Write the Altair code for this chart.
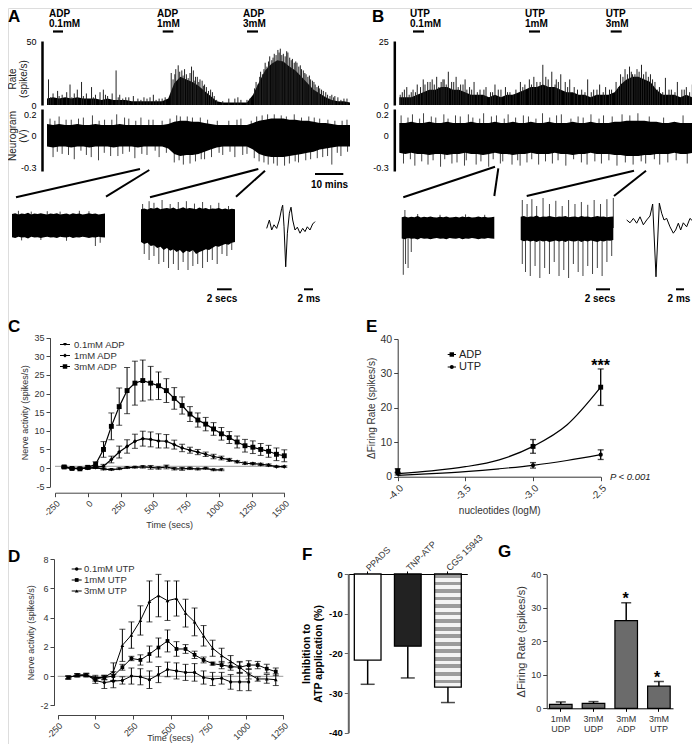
import altair as alt
import pandas as pd

FONT = "Liberation Sans"
M = 8            # page margin
W, H = 684, 736  # drawing area
MINUS = "replace(format(datum.value, 'd'), '\u2212', '-')"

# ================= Panels A / B : recordings (envelopes) =================
trace_t = list(range(0, 101, 2))  # minutes

a_rate_dense = [5, 6, 5, 6, 5, 6, 5, 5, 5, 4, 5, 4, 4, 4, 3, 3, 3, 3, 3, 3,
                5, 17, 22, 20, 18, 15, 11, 7, 3,
                2, 2, 2, 2, 2,
                8, 18, 27, 32, 35, 34, 30, 27, 22, 17, 12, 9, 6, 4, 3, 3, 2]
a_rate_spk_t = [0.5, 2, 3.5, 5, 6.5, 7.6, 9, 10, 11.4, 13, 14.7, 16, 17.5, 18.6, 20, 21.5, 22.8, 24, 26, 28.5,
                30, 32, 35.1, 37, 41, 42.5, 43.3, 44.5, 46, 47.7, 49, 50.5, 52, 54, 60, 63, 66, 69, 70.5, 72,
                73.5, 75, 76.2, 77, 78, 79.5, 81, 82.5, 84, 85.5, 87, 88.5, 90, 92, 94, 96, 98,
                1.2, 4, 8.2, 12, 15.3, 19.3, 23.5, 25, 27, 31, 33, 34, 36, 38, 39, 56, 58, 62, 64, 67, 95, 97, 99,
                41.6, 42.2, 43.8, 44.9, 45.4, 46.6, 47.2, 48.3, 48.8, 49.6, 50.1, 51.2, 51.7, 52.6, 53.3, 54.6, 55.2,
                68.5, 69.6, 70.2, 71.1, 71.6, 72.6, 73.1, 74.2, 74.6, 75.6, 76.6, 77.5, 78.6, 79.1, 80.1, 80.6, 81.6,
                82.1, 83.1, 83.6, 84.6, 85.1, 86.1, 86.6, 87.6, 88.1, 89.1, 89.6, 90.6, 91.2, 92.6, 93.4, 94.6]
a_rate_spk_v = [20, 9, 11, 8, 10, 16, 9, 12, 18, 9, 14, 8, 10, 12, 7, 9, 27, 8, 6, 7,
                5, 6, 8, 5, 25, 28, 31, 27, 24, 30, 22, 20, 16, 12, 5, 6, 4, 18, 26, 33,
                38, 40, 43, 44, 40, 41, 36, 33, 28, 24, 20, 16, 13, 10, 8, 6, 5,
                6, 7, 6, 7, 6, 8, 6, 5, 6, 4, 5, 6, 4, 5, 6, 4, 3, 5, 4, 5, 7, 4, 5,
                20, 24, 26, 23, 28, 21, 25, 27, 19, 22, 18, 19, 15, 14, 11, 10, 7,
                13, 16, 22, 24, 28, 30, 34, 35, 37, 39, 41, 39, 38, 42, 37, 35, 33,
                34, 30, 31, 27, 25, 22, 23, 19, 18, 14, 15, 12, 11, 8, 7, 6]
a_neu_hi = [0.11, 0.1, 0.11, 0.1, 0.1, 0.11, 0.1, 0.1, 0.11, 0.1, 0.1, 0.1, 0.11, 0.1, 0.1, 0.1, 0.1, 0.1, 0.1, 0.1,
            0.11, 0.13, 0.14, 0.14, 0.13, 0.13, 0.12, 0.11, 0.1,
            0.1, 0.1, 0.1, 0.1, 0.1,
            0.12, 0.14, 0.15, 0.16, 0.16, 0.16, 0.15, 0.15, 0.14, 0.14, 0.13, 0.12, 0.12, 0.11, 0.1, 0.1, 0.1]
a_neu_lo = [-0.1, -0.11, -0.1, -0.1, -0.11, -0.1, -0.1, -0.11, -0.1, -0.1, -0.1, -0.11, -0.1, -0.1, -0.1, -0.11, -0.1, -0.1, -0.1, -0.1,
            -0.12, -0.17, -0.19, -0.18, -0.18, -0.17, -0.15, -0.13, -0.11,
            -0.1, -0.1, -0.1, -0.1, -0.1,
            -0.13, -0.17, -0.19, -0.2, -0.2, -0.2, -0.19, -0.18, -0.17, -0.16, -0.15, -0.13, -0.12, -0.11, -0.1, -0.1, -0.1]
a_neu_spk_t = [1, 4, 8, 12, 15, 19, 23, 27, 31, 35, 38, 44, 48, 53, 60, 64, 71, 75, 79, 84, 90, 95, 99,
               2, 5, 9, 13, 17, 21, 25, 29, 33, 37, 42, 45, 49, 52, 58, 62, 66, 70, 73, 76, 80, 83, 87, 91, 94, 97,
               2.6, 6.3, 10.4, 17.2, 21.4, 25.6, 29.3, 33.6, 40.6, 42.8, 46.3, 50.6, 56.2, 62.7, 67.4, 69.2, 72.8, 77.3,
               81.6, 86.4, 88.2, 92.7, 97.4,
               3.4, 7.1, 11.2, 14.6, 18.9, 23.4, 27.2, 31.3, 35.7, 39.4, 43.6, 47.2, 50.9, 54.3, 56.8, 60.4, 64.6, 68.4,
               71.6, 74.8, 78.4, 81.9, 85.4, 89.2, 92.6, 95.8, 99.2]
a_neu_spk_v = [0.16, 0.18, 0.15, 0.17, 0.19, 0.15, 0.2, 0.16, 0.17, 0.15, 0.14, 0.18, 0.17, 0.15, 0.14, 0.16, 0.19, 0.2, 0.18, 0.17, 0.16, 0.14, 0.15,
               -0.2, -0.17, -0.22, -0.18, -0.23, -0.19, -0.17, -0.21, -0.18, -0.2, -0.25, -0.27, -0.24, -0.22, -0.18, -0.2, -0.17, -0.24, -0.27, -0.28, -0.26, -0.25, -0.22, -0.2, -0.27, -0.19,
               0.14, 0.15, 0.16, 0.14, 0.15, 0.17, 0.14, 0.15, 0.16, 0.19, 0.18, 0.17, 0.14, 0.15, 0.14, 0.18, 0.2, 0.19,
               0.2, 0.18, 0.17, 0.15, 0.14,
               -0.15, -0.18, -0.14, -0.2, -0.16, -0.19, -0.15, -0.17, -0.14, -0.16, -0.23, -0.26, -0.22, -0.2, -0.16, -0.15, -0.18, -0.21,
               -0.25, -0.26, -0.28, -0.24, -0.23, -0.21, -0.19, -0.16, -0.15]

b_rate_dense = [3, 3, 3, 4, 5, 6, 6, 7, 7, 6, 6, 5, 4, 4, 4, 3, 4, 3, 4, 4,
                5, 6, 7, 7, 8, 7, 7, 6, 5, 5, 4, 4, 3, 4, 4, 4, 5, 8, 10, 11,
                11, 10, 9, 6, 4, 4, 4, 3, 4, 3, 3]
b_rate_spk_t = [1, 2.5, 4, 6, 8, 9.5, 11, 12.5, 14, 15, 16.4, 17.5, 19, 20.5, 22, 23.5, 25, 27, 29, 30.5,
                32, 34, 35.5, 37, 39, 40.5, 42, 43.5, 45, 46, 48, 49, 51, 52.5, 54, 55.5, 57, 58.5, 61, 63,
                65, 67, 69, 71, 72.5, 74, 75.5, 77, 78, 79.5, 81, 82.5, 84, 85.5, 87, 89, 91, 93, 94.5, 96, 98, 99.5,
                0.3, 1.7, 3.3, 4.6, 5.4, 7.1, 8.6, 10.3, 11.7, 13.2, 14.6, 15.7, 18.2, 19.7, 21.3, 22.6, 24.2, 26.1, 28.3, 31.2,
                33.1, 36.2, 38.1, 41.3, 44.2, 47.1, 49.8, 52.1, 53.2, 56.3, 59.6, 62.1, 64.2, 66.1, 68.2, 70.3, 73.3, 74.8, 76.3, 77.6,
                78.8, 80.2, 81.7, 83.3, 84.7, 86.3, 88.1, 90.2, 92.2, 95.3, 97.1, 99.1]
b_rate_spk_v = [5, 7, 5, 8, 10, 9, 10, 11, 9, 10, 13, 9, 11, 8, 10, 7, 9, 6, 7, 5,
                8, 6, 7, 5, 6, 9, 8, 10, 11, 9, 15.7, 11, 13, 10, 12, 9, 10, 7, 6, 10,
                6, 8, 7, 6, 9, 12, 14, 15, 12, 14, 15.7, 13, 12, 9, 7, 10.6, 6, 9, 6, 7, 8, 6,
                4, 6, 4, 6, 5, 7, 8, 9, 8, 7, 10, 8, 9, 7, 8, 6, 6, 5, 6, 5,
                6, 5, 4, 7, 8, 9, 10, 8, 9, 7, 6, 5, 5, 6, 5, 6, 7, 11, 12, 13,
                12, 13, 12, 11, 10, 6, 5, 6, 5, 6, 5, 4]
b_neu_hi = [0.12, 0.12, 0.13, 0.12, 0.12, 0.13, 0.12, 0.12, 0.13, 0.12, 0.12, 0.12, 0.13, 0.12, 0.12, 0.12, 0.13, 0.12, 0.12, 0.13,
            0.12, 0.12, 0.13, 0.12, 0.12, 0.13, 0.12, 0.12, 0.12, 0.13, 0.12, 0.12, 0.13, 0.12, 0.12, 0.12, 0.13, 0.13, 0.14, 0.14,
            0.14, 0.14, 0.13, 0.13, 0.12, 0.12, 0.13, 0.12, 0.12, 0.12, 0.12]
b_neu_lo = [-0.16, -0.17, -0.16, -0.17, -0.17, -0.18, -0.17, -0.17, -0.18, -0.17, -0.17, -0.16, -0.17, -0.17, -0.18, -0.17, -0.16, -0.17, -0.17, -0.18,
            -0.17, -0.17, -0.16, -0.17, -0.17, -0.17, -0.16, -0.17, -0.17, -0.18, -0.17, -0.17, -0.16, -0.17, -0.17, -0.17, -0.18, -0.18, -0.19, -0.19,
            -0.19, -0.18, -0.18, -0.17, -0.17, -0.17, -0.16, -0.17, -0.17, -0.16, -0.16]
b_neu_up_t = [0.6, 2.9, 4.4, 6.8, 8.1, 10.7, 12.2, 14.9, 16.3, 18.8, 20.4, 23.1, 24.6, 26.9, 28.2, 30.8, 32.5, 35.1, 36.4, 38.9,
              41.5, 43.2, 45.7, 47.9, 50.3, 52.6, 54.2, 57.4, 59.8, 61.5, 64.1, 66.8, 68.3, 71.2, 74.5, 77.1, 79.8, 83.6, 88.4, 94.9]
b_neu_up_v = [0.19, 0.17, 0.2, 0.16, 0.21, 0.18, 0.17, 0.2, 0.16, 0.19, 0.18, 0.2, 0.17, 0.16, 0.21, 0.18, 0.19, 0.16, 0.2, 0.17,
              0.19, 0.18, 0.16, 0.21, 0.17, 0.19, 0.2, 0.16, 0.18, 0.17, 0.2, 0.16, 0.19, 0.18, 0.2, 0.19, 0.21, 0.18, 0.17, 0.19]
b_neu_dn_t = [1.4, 3.7, 5.2, 7.5, 9.6, 11.3, 13.8, 15.2, 17.6, 19.3, 21.8, 22.4, 25.7, 27.3, 29.9, 31.4, 33.8, 34.6, 37.7, 39.6,
              40.4, 42.7, 44.3, 46.6, 48.9, 51.2, 53.1, 55.7, 58.3, 60.9, 62.8, 65.4, 67.6, 70.1, 72.8, 75.6, 78.2, 80.9, 82.4, 85.3,
              87.1, 89.8, 92.6, 96.3, 98.7]
b_neu_dn_v = [-0.26, -0.22, -0.28, -0.24, -0.27, -0.23, -0.29, -0.22, -0.26, -0.25, -0.28, -0.23, -0.27, -0.24, -0.29, -0.22, -0.26, -0.24, -0.27, -0.23,
              -0.28, -0.25, -0.22, -0.27, -0.24, -0.26, -0.23, -0.28, -0.22, -0.25, -0.27, -0.24, -0.26, -0.23, -0.28, -0.25, -0.27, -0.24, -0.26, -0.22,
              -0.27, -0.25, -0.23, -0.26, -0.24]

# insets (sample index 0..29) -- arbitrary units
inset_i = list(range(30))
a1_hi = [0.3, 0.32, 0.29, 0.31, 0.3, 0.33, 0.29, 0.31, 0.3, 0.32, 0.3, 0.29, 0.31, 0.3, 0.32,
         0.29, 0.3, 0.31, 0.29, 0.32, 0.3, 0.31, 0.29, 0.3, 0.32, 0.3, 0.31, 0.29, 0.3, 0.31]
a1_lo = [-0.28, -0.3, -0.27, -0.29, -0.28, -0.31, -0.27, -0.29, -0.28, -0.3, -0.28, -0.27, -0.29, -0.28, -0.3,
         -0.27, -0.28, -0.29, -0.27, -0.3, -0.28, -0.29, -0.27, -0.28, -0.3, -0.28, -0.29, -0.27, -0.28, -0.29]
a1_spk_t = [2, 6, 11, 15, 21, 24, 3, 9, 17, 26, 27.5]
a1_spk_v = [0.38, 0.36, 0.37, 0.36, 0.38, 0.37, -0.36, -0.35, -0.37, -0.5, -0.42]
a2_hi = [0.42, 0.44, 0.41, 0.45, 0.43, 0.46, 0.42, 0.44, 0.45, 0.43, 0.46, 0.42, 0.44, 0.47, 0.43,
         0.45, 0.44, 0.42, 0.46, 0.43, 0.45, 0.42, 0.44, 0.43, 0.45, 0.42, 0.44, 0.41, 0.43, 0.42]
a2_lo = [-0.4, -0.45, -0.42, -0.5, -0.48, -0.55, -0.52, -0.6, -0.55, -0.62, -0.58, -0.65, -0.6, -0.68, -0.62,
         -0.65, -0.6, -0.7, -0.65, -0.62, -0.58, -0.6, -0.55, -0.5, -0.52, -0.48, -0.45, -0.47, -0.42, -0.4]
a2_spk_t = [0.5, 2.5, 4, 6.5, 9, 11.5, 14, 16.5, 19, 21.5, 24, 27,
            1, 2.5, 4, 5.5, 7, 8.5, 10, 11.5, 13, 14.5, 16, 17.5, 19, 20.5, 22, 23.5, 25, 26.5, 28]
a2_spk_v = [0.55, 0.62, 0.58, 0.65, 0.55, 0.6, 0.62, 0.56, 0.6, 0.52, 0.58, 0.5,
            -0.7, -0.85, -0.75, -0.95, -0.9, -1.05, -0.95, -1.1, -0.9, -1.1, -1.0, -0.95, -1.05, -0.9, -0.85, -0.95, -0.7, -0.75, -0.6]
b1_hi = [0.27, 0.29, 0.26, 0.28, 0.27, 0.3, 0.26, 0.28, 0.27, 0.29, 0.27, 0.26, 0.28, 0.27, 0.29,
         0.26, 0.27, 0.28, 0.26, 0.29, 0.27, 0.28, 0.26, 0.27, 0.29, 0.27, 0.28, 0.26, 0.27, 0.28]
b1_lo = [-0.26, -0.28, -0.25, -0.27, -0.26, -0.29, -0.25, -0.27, -0.26, -0.28, -0.26, -0.25, -0.27, -0.26, -0.28,
         -0.25, -0.26, -0.27, -0.25, -0.28, -0.26, -0.27, -0.25, -0.26, -0.28, -0.26, -0.27, -0.25, -0.26, -0.27]
b1_spk_t = [0.5, 1.2, 2, 3, 1, 5, 12, 20, 26]
b1_spk_v = [-1.17, -0.9, -1.0, -0.6, 0.45, 0.35, 0.33, 0.34, 0.33]
b2_hi = [0.28, 0.3, 0.27, 0.29, 0.28, 0.31, 0.27, 0.29, 0.28, 0.3, 0.28, 0.27, 0.29, 0.28, 0.3,
         0.27, 0.28, 0.29, 0.27, 0.3, 0.28, 0.29, 0.27, 0.28, 0.3, 0.28, 0.29, 0.27, 0.28, 0.29]
b2_lo = [-0.3, -0.33, -0.31, -0.34, -0.32, -0.35, -0.31, -0.34, -0.32, -0.35, -0.33, -0.31, -0.34, -0.32, -0.35,
         -0.31, -0.33, -0.34, -0.31, -0.35, -0.32, -0.34, -0.31, -0.33, -0.35, -0.32, -0.34, -0.31, -0.32, -0.3]
b2_spk_t = [0.5, 2, 3.5, 5, 7, 9, 11, 13, 15, 17, 19, 21, 23, 25, 27, 29,
            0.5, 1.5, 3, 4.5, 6, 7.5, 9, 10.5, 12, 13.5, 15, 16.5, 18, 19.5, 21, 22.5, 24, 25.5, 27, 28.5]
b2_spk_v = [0.7, 0.6, 0.72, 0.55, 0.75, 0.6, 0.68, 0.55, 0.7, 0.6, 0.65, 0.58, 0.7, 0.6, 0.72, 0.75,
            -0.9, -1.1, -1.2, -0.95, -1.25, -1.0, -1.15, -0.85, -1.2, -1.05, -1.25, -0.9, -1.1, -1.2, -0.95, -1.15, -1.0, -1.2, -0.85, -0.7]

# single-unit waveforms (ms, arbitrary units)
a_wave_t = [0, 0.59, 1.11, 1.62, 2.21, 2.8, 3.32, 3.54, 3.84, 4.21, 4.58, 5.02, 5.39, 5.76, 6.27, 6.79, 7.38, 7.97, 8.49, 9.0, 9.59, 10.18, 10.7]
a_wave_v = [-0.06, 0.15, -0.1, 0.03, -0.06, 0.15, 0.44, 0.52, -0.02, -1.02, -0.18, 0.32, 0.47, 0.15, -0.1, -0.03, -0.18, -0.06, -0.14, -0.02, -0.1, 0.05, 0.11]
b_wave_t = [0, 0.83, 1.66, 2.49, 3.32, 4.15, 4.98, 5.81, 6.47, 6.89, 7.3, 7.72, 8.13, 8.72, 9.3, 9.96, 10.79, 11.62, 12.2, 12.87, 13.45, 14.11, 14.94, 15.77, 16.6]
b_wave_v = [0.2, 0.13, 0.24, 0.12, 0.28, 0.08, 0.2, 0.3, 0.6, -0.3, -1.22, -0.3, 0.62, 0.37, 0.2, 0.24, 0.03, -0.13, -0.05, 0.12, -0.05, 0.13, 0.03, 0.24, 0.16]

# ================= Panel C (ADP time course) =================
c_time = [-180, -120, -60, 0, 60, 120, 180, 240, 300, 360, 420, 480, 540, 600, 660, 720, 780, 840, 900, 960,
          1020, 1080, 1140, 1200, 1260, 1320, 1380, 1440, 1500]
c_3mm = [0.3, -0.1, -0.2, 0.2, 1.0, 5.0, 11.2, 16.5, 20.8, 22.8, 23.5, 22.8, 22.1, 20.8, 18.7, 16.8, 14.5, 12.9, 11.8, 10.5,
         9.2, 8.2, 7.0, 6.0, 5.6, 5.0, 4.5, 3.7, 3.3]
c_3mm_sem = [0.3, 0.2, 0.2, 0.4, 0.7, 2.1, 3.6, 5.0, 6.2, 5.9, 5.5, 4.5, 3.7, 3.2, 2.9, 2.3, 2.0, 1.9, 1.8, 1.7,
             1.7, 1.6, 1.6, 1.7, 1.7, 1.6, 1.6, 1.7, 1.6]
c_1mm = [0.3, -0.1, -0.1, 0.0, 0.2, 0.5, 2.3, 4.3, 5.8, 7.2, 7.9, 7.7, 7.3, 7.2, 6.3, 5.4, 4.8, 4.3, 3.7, 3.1,
         2.7, 2.2, 1.7, 1.3, 1.2, 1.0, 0.8, 0.4, 0.4]
c_1mm_sem = [0.2, 0.1, 0.1, 0.2, 0.3, 0.5, 0.9, 1.6, 1.8, 1.9, 2.0, 2.0, 1.9, 1.8, 1.2, 1.0, 0.8, 0.7, 0.6, 0.6,
             0.5, 0.4, 0.3, 0.3, 0.3, 0.3, 0.3, 0.2, 0.2]
c_01_time = [-180, -120, -60, 0, 60, 120, 180, 240, 300, 360, 420, 480, 540, 600, 660, 720, 780, 840, 900, 960, 1020]
c_01 = [0.2, -0.1, -0.1, -0.1, 0.1, -0.3, -0.4, -0.2, 0.1, 0.2, 0.3, 0.2, 0.0, 0.3, -0.2, -0.2, -0.1, -0.3, -0.1, -0.5, -0.5]
c_01_sem = [0.1, 0.1, 0.1, 0.1, 0.2, 0.2, 0.2, 0.2, 0.2, 0.2, 0.3, 0.5, 0.3, 0.5, 0.3, 0.4, 0.3, 0.2, 0.2, 0.2, 0.2]

# ================= Panel D (UTP time course) =================
d_time = [-180, -120, -60, 0, 60, 120, 180, 240, 300, 360, 420, 480, 540, 600, 660, 720, 780, 840, 900, 960,
          1020, 1080, 1140, 1200]
d_3mm = [-0.1, 0.05, 0.05, -0.1, -0.1, 0.3, 2.1, 2.8, 3.8, 5.1, 5.5, 5.15, 5.3, 4.3, 3.7, 2.75, 1.9, 1.4, 1.0, 0.6,
         0.15, -0.2, -0.2, -0.25]
d_3mm_sem = [0.1, 0.1, 0.1, 0.15, 0.15, 0.6, 1.1, 0.9, 1.0, 1.4, 1.45, 1.35, 1.2, 0.95, 0.95, 0.7, 0.55, 0.5, 0.4, 0.4,
             0.35, 0.15, 0.3, 0.4]
d_1mm = [-0.1, 0.05, 0.05, -0.2, -0.1, 0.0, 0.6, 1.2, 1.1, 1.5, 1.95, 2.4, 1.85, 1.85, 1.45, 1.1, 0.85, 0.75, 0.65, 0.6,
         0.75, 0.75, 0.5, 0.3]
d_1mm_sem = [0.1, 0.1, 0.1, 0.15, 0.15, 0.3, 0.2, 0.15, 0.35, 0.55, 0.65, 0.75, 0.5, 0.3, 0.25, 0.2, 0.1, 0.25, 0.25, 0.35,
             0.3, 0.25, 0.3, 0.25]
d_01_time = [-180, -120, -60, 0, 60, 120, 180, 240, 300, 360, 420, 480, 540, 600, 660, 720, 780, 840, 900, 960, 1020]
d_01 = [-0.1, 0.05, 0.1, -0.3, -0.45, -0.35, -0.3, 0.0, -0.05, -0.25, 0.1, 0.45, 0.35, 0.25, 0.25, -0.1, -0.2, -0.15, -0.4, -0.4, -0.4]
d_01_sem = [0.1, 0.1, 0.1, 0.2, 0.4, 0.45, 0.25, 0.55, 0.55, 0.6, 0.55, 0.5, 0.55, 0.55, 0.6, 0.45, 0.45, 0.4, 0.5, 0.6, 0.6]

# ================= Panel E (concentration response) =================
e_logc = [-4.0, -3.0, -2.5]
e_adp = [1.7, 8.8, 26.0]
e_adp_sem = [0.6, 2.0, 5.3]
e_utp = [0.9, 3.3, 6.4]
e_utp_sem = [0.4, 0.8, 1.4]
e_fit_x = [-4.0, -3.75, -3.5, -3.25, -3.0, -2.75, -2.5]
e_fit_adp = [0.9, 1.7, 2.9, 4.9, 8.8, 15.0, 26.0]
e_fit_utp = [0.4, 0.9, 1.5, 2.3, 3.3, 4.7, 6.4]

# ================= Panel F (antagonists) =================
f_cats = ["PPADS", "TNP-ATP", "CGS 15943"]
f_mean = [-21.7, -18.2, -28.5]
f_sem = [6.1, 8.0, 3.9]

# ================= Panel G =================
g_cats = ["1mM UDP", "3mM UDP", "3mM ADP", "3mM UTP"]
g_mean = [1.2, 1.5, 26.2, 6.6]
g_sem = [0.7, 0.5, 5.3, 1.4]
g_star = ["", "", "*", "*"]

# ================= helpers =================
ONE = pd.DataFrame({"k": [0]})
L = []


def lin(domain, a, b):
    return alt.Scale(domain=domain, range=[a - M, b - M], nice=False, zero=False)


def axis(**kw):
    d = dict(grid=False, labelFont=FONT, titleFont=FONT, labelColor="#333", titleColor="#333",
             domainColor="#444", tickColor="#444", labelFontSize=9, titleFontSize=9,
             titleFontWeight="normal", tickSize=4, labelPadding=2, titlePadding=4)
    d.update(kw)
    return alt.Axis(**d)


def text(s, x, y, size=10, weight="normal", align="left", baseline="alphabetic", angle=0,
         style="normal", color="black"):
    kw = dict(text=s, align=align, baseline=baseline, font=FONT, fontSize=size,
              fontWeight=weight, fontStyle=style, color=color)
    if angle:
        kw["angle"] = angle
    return alt.Chart(ONE).mark_text(**kw).encode(x=alt.value(x - M), y=alt.value(y - M))


def seg(x1, y1, x2, y2, w=2.0, color="black"):
    return alt.Chart(ONE).mark_rule(color=color, strokeWidth=w).encode(
        x=alt.value(x1 - M), y=alt.value(y1 - M), x2=alt.value(x2 - M), y2=alt.value(y2 - M))


def pt(x, y, shape, size):
    return alt.Chart(ONE).mark_point(shape=shape, size=size, filled=True, color="black", opacity=1).encode(
        x=alt.value(x - M), y=alt.value(y - M))


def rate_trace(xs, ys, dense, st, sv, yaxis):
    d = pd.DataFrame({"t": trace_t, "v": dense})
    s = pd.DataFrame({"t": st, "v": sv})
    return [
        alt.Chart(d).mark_area(color="black", interpolate="linear").encode(
            x=alt.X("t:Q", scale=xs, axis=None), y=alt.Y("v:Q", scale=ys, axis=yaxis), y2=alt.datum(0)),
        alt.Chart(s).mark_rule(color="#222", strokeWidth=1).encode(
            x=alt.X("t:Q", scale=xs, axis=None), y=alt.Y("v:Q", scale=ys, axis=None), y2=alt.datum(0)),
    ]


def band_trace(xs, ys, t, hi, lo, st, sv, yaxis=None):
    d = pd.DataFrame({"t": t, "hi": hi, "lo": lo})
    s = pd.DataFrame({"t": st, "v": sv})
    return [
        alt.Chart(s).mark_rule(color="#444", strokeWidth=1).encode(
            x=alt.X("t:Q", scale=xs, axis=None), y=alt.Y("v:Q", scale=ys, axis=None), y2=alt.datum(0)),
        alt.Chart(d).mark_area(color="black", interpolate="linear").encode(
            x=alt.X("t:Q", scale=xs, axis=None), y=alt.Y("hi:Q", scale=ys, axis=yaxis), y2=alt.Y2("lo")),
    ]


def wave(xs, ys, t, v):
    d = pd.DataFrame({"t": t, "v": v})
    return alt.Chart(d).mark_line(color="black", strokeWidth=1).encode(
        x=alt.X("t:Q", scale=xs, axis=None), y=alt.Y("v:Q", scale=ys, axis=None))


def trace_axis(xpx, values):
    return alt.Axis(orient="left", offset=-(xpx - M), values=values, tickSize=0, domainWidth=2.5,
                    domainColor="black", labelColor="black", labelFont=FONT, labelFontSize=9,
                    labelPadding=6, grid=False, title=None,
                    labelExpr="replace(format(datum.value, '~g'), '\u2212', '-')")


def series(t, mean, sem, xs, ys, shape, size, cap=6, lw=1.2):
    df = pd.DataFrame({"t": t, "m": mean,
                       "lo": [a - b for a, b in zip(mean, sem)],
                       "hi": [a + b for a, b in zip(mean, sem)]})
    X = alt.X("t:Q", scale=xs, axis=None)
    b = alt.Chart(df)
    return [
        b.mark_rule(color="black", strokeWidth=1).encode(x=X, y=alt.Y("lo:Q", scale=ys, axis=None), y2=alt.Y2("hi")),
        b.mark_tick(orient="horizontal", size=cap, thickness=1, color="black").encode(x=X, y=alt.Y("hi:Q", scale=ys, axis=None)),
        b.mark_tick(orient="horizontal", size=cap, thickness=1, color="black").encode(x=X, y=alt.Y("lo:Q", scale=ys, axis=None)),
        b.mark_line(color="black", strokeWidth=lw).encode(x=X, y=alt.Y("m:Q", scale=ys, axis=None)),
        b.mark_point(shape=shape, size=size, filled=True, color="black", opacity=1).encode(
            x=X, y=alt.Y("m:Q", scale=ys, axis=None)),
    ]


# ================= Panel A =================
a_xs = lin([0, 100], 47, 350)
a_rate_ys = lin([0, 50], 105, 41)
a_neu_ys = lin([-0.33, 0.25], 171, 109)
L += rate_trace(a_xs, a_rate_ys, a_rate_dense, a_rate_spk_t, a_rate_spk_v, trace_axis(42, [0, 50]))
L += band_trace(a_xs, a_neu_ys, trace_t, a_neu_hi, a_neu_lo, a_neu_spk_t, a_neu_spk_v, trace_axis(42, [-0.3, 0, 0.2]))

ain_ys = lin([-1.5, 1.5], 286, 166)
L += band_trace(lin([0, 29], 12, 105), ain_ys, inset_i, a1_hi, a1_lo, a1_spk_t, a1_spk_v)
L += band_trace(lin([0, 29], 141, 235), ain_ys, inset_i, a2_hi, a2_lo, a2_spk_t, a2_spk_v)
L.append(wave(lin([0, 10.7], 266.7, 315), ain_ys, a_wave_t, a_wave_v))

# ================= Panel B =================
b_xs = lin([0, 100], 399.3, 698.3)
b_rate_ys = lin([0, 25], 105, 41)
L += rate_trace(b_xs, b_rate_ys, b_rate_dense, b_rate_spk_t, b_rate_spk_v, trace_axis(394.3, [0, 25]))
L += band_trace(b_xs, a_neu_ys, trace_t, b_neu_hi, b_neu_lo, b_neu_up_t + b_neu_dn_t, b_neu_up_v + b_neu_dn_v,
                trace_axis(394.3, [-0.3, 0, 0.2]))
bin_ys = lin([-1.5, 1.5], 288, 168)
L += band_trace(lin([0, 29], 401.7, 494.3), bin_ys, inset_i, b1_hi, b1_lo, b1_spk_t, b1_spk_v)
L += band_trace(lin([0, 29], 520.7, 613.3), bin_ys, inset_i, b2_hi, b2_lo, b2_spk_t, b2_spk_v)
L.append(wave(lin([0, 16.6], 626.7, 693.3), bin_ys, b_wave_t, b_wave_v))

# trace annotations
for lbl, x, y in [("Rate", 13, 79), ("(spike/s)", 24, 79), ("Neurogram", 13, 136), ("(V)", 24, 136)]:
    L.append(text(lbl, x, y, size=10, align="center", baseline="middle", angle=270, color="#222"))
for drug, conc, xt, b1, b2 in [("ADP", "0.1mM", 49, 53, 63), ("ADP", "1mM", 157, 162.7, 173.3),
                               ("ADP", "3mM", 243, 247, 258), ("UTP", "0.1mM", 410, 413, 424),
                               ("UTP", "1mM", 525, 529, 540), ("UTP", "3mM", 605.7, 610.7, 621.7)]:
    L.append(text(drug, xt, 17, size=10, weight="bold"))
    L.append(text(conc, xt, 27, size=10, weight="bold"))
    L.append(seg(b1, 31.5, b2, 31.5, w=2.2))
# zoom connector lines
for x1, y1, x2, y2 in [(140, 169, 16, 197.3), (149.3, 170, 106, 196.7), (258.3, 169, 150, 197.3), (265, 170.7, 236, 196.7),
                       (495, 166.7, 403.3, 197.3), (498.3, 168.3, 494.3, 196), (634, 170.7, 526.7, 196), (646, 170.7, 614, 196)]:
    L.append(seg(x1, y1, x2, y2, w=2))
# scale bars
L.append(seg(315, 174, 343.3, 174, w=2))
L.append(text("10 mins", 329.5, 188, size=10, weight="bold", align="center"))
for b1, b2, tx, lbl in [(217, 231.7, 222, "2 secs"), (304, 313, 309, "2 ms"),
                        (596, 610, 600, "2 secs"), (676, 684, 679, "2 ms")]:
    L.append(seg(b1, 289.3, b2, 289.3, w=2))
    L.append(text(lbl, tx, 302, size=10, weight="bold", align="center"))

# ================= Panel C =================
c_xs = lin([-250, 1500], 55, 284.3)
c_ys = lin([-5, 35], 486.7, 337.7)
L.append(seg(55, 466.3, 284.3, 466.3, w=1, color="#9a9a9a"))
L.append(alt.Chart(pd.DataFrame({"t": c_time, "m": c_3mm})).mark_point(opacity=0).encode(
    x=alt.X("t:Q", scale=c_xs, axis=axis(orient="bottom", offset=(492.7 - M) - H,
                                          values=[-250, 0, 250, 500, 750, 1000, 1250, 1500],
                                          labelAngle=-45, labelExpr=MINUS, title=None)),
    y=alt.Y("m:Q", scale=c_ys, axis=axis(orient="left", offset=-(50 - M),
                                         values=[-5, 0, 5, 10, 15, 20, 25, 30, 35],
                                         labelExpr=MINUS, title="Nerve activity (spikes/s)"))))
L.append(text("Time (secs)", 169.7, 525, size=9, align="center", baseline="middle", color="#333"))
L += series(c_01_time, c_01, c_01_sem, c_xs, c_ys, "triangle-down", 14)
L += series(c_time, c_1mm, c_1mm_sem, c_xs, c_ys, "diamond", 18)
L += series(c_time, c_3mm, c_3mm_sem, c_xs, c_ys, "square", 24)
for y, shp, sz, lbl in [(344.5, "triangle-down", 14, "0.1mM ADP"), (355.5, "diamond", 18, "1mM ADP"),
                        (366.5, "square", 20, "3mM ADP")]:
    L.append(seg(60, y, 70, y, w=1))
    L.append(pt(65, y, shp, sz))
    L.append(text(lbl, 74, y, size=9.5, baseline="middle", color="#333"))

# ================= Panel D =================
d_xs = lin([-250, 1250], 57.7, 283.3)
d_ys = lin([-2, 8], 705.3, 559)
L.append(seg(57.7, 676.3, 283.3, 676.3, w=1, color="#9a9a9a"))
L.append(alt.Chart(pd.DataFrame({"t": d_time, "m": d_3mm})).mark_point(opacity=0).encode(
    x=alt.X("t:Q", scale=d_xs, axis=axis(orient="bottom", offset=(715 - M) - H,
                                          values=[-250, 0, 250, 500, 750, 1000, 1250],
                                          labelAngle=-45, labelExpr=MINUS, title=None)),
    y=alt.Y("m:Q", scale=d_ys, axis=axis(orient="left", offset=-(54 - M),
                                         values=[-2, 0, 2, 4, 6, 8],
                                         labelExpr=MINUS, title="Nerve activity (spikes/s)"))))
L.append(text("Time (secs)", 170.5, 738, size=9, align="center", baseline="middle", color="#333"))
L += series(d_01_time, d_01, d_01_sem, d_xs, d_ys, "circle", 10, lw=1)
L += series(d_time, d_1mm, d_1mm_sem, d_xs, d_ys, "square", 14, lw=1)
L += series(d_time, d_3mm, d_3mm_sem, d_xs, d_ys, "triangle-up", 14, lw=1)
for y, shp, sz, lbl in [(569, "circle", 12, "0.1mM UTP"), (580, "square", 14, "1mM UTP"),
                        (591, "triangle-up", 14, "3mM UTP")]:
    L.append(seg(71.7, y, 81.7, y, w=1))
    L.append(pt(76.7, y, shp, sz))
    L.append(text(lbl, 84, y, size=9.5, baseline="middle", color="#333"))

# ================= Panel E =================
e_xs = lin([-4, -2.5], 397.7, 600.7)
e_ys = lin([0, 40], 476.7, 339)
L.append(alt.Chart(pd.DataFrame({"x": e_fit_x, "y": e_fit_adp})).mark_line(
    color="black", strokeWidth=1.2, interpolate="monotone").encode(
    x=alt.X("x:Q", scale=e_xs, axis=axis(orient="bottom", offset=(476.7 - M) - H,
                                          values=[-4, -3.5, -3, -2.5], labelAngle=-45,
                                          labelExpr="replace(format(datum.value, '.1f'), '\u2212', '-')",
                                          title="nucleotides (logM)", labelFontSize=10, titleFontSize=10,
                                          domainColor="#333")),
    y=alt.Y("y:Q", scale=e_ys, axis=axis(orient="left", offset=-(397.7 - M), values=[0, 10, 20, 30, 40],
                                         title="\u0394Firing Rate (spikes/s)", labelFontSize=10.5,
                                         titleFontSize=10, domainColor="#333"))))
L.append(alt.Chart(pd.DataFrame({"x": e_fit_x, "y": e_fit_utp})).mark_line(
    color="black", strokeWidth=1.2, interpolate="monotone").encode(
    x=alt.X("x:Q", scale=e_xs, axis=None), y=alt.Y("y:Q", scale=e_ys, axis=None)))


def e_points(mean, sem, shape, size):
    df = pd.DataFrame({"x": e_logc, "m": mean,
                       "lo": [a - b for a, b in zip(mean, sem)], "hi": [a + b for a, b in zip(mean, sem)]})
    X = alt.X("x:Q", scale=e_xs, axis=None)
    b = alt.Chart(df)
    return [
        b.mark_rule(color="black", strokeWidth=1.3).encode(x=X, y=alt.Y("lo:Q", scale=e_ys, axis=None), y2=alt.Y2("hi")),
        b.mark_tick(orient="horizontal", size=6, thickness=1.3, color="black").encode(x=X, y=alt.Y("hi:Q", scale=e_ys, axis=None)),
        b.mark_tick(orient="horizontal", size=6, thickness=1.3, color="black").encode(x=X, y=alt.Y("lo:Q", scale=e_ys, axis=None)),
        b.mark_point(shape=shape, size=size, filled=True, color="black", opacity=1).encode(
            x=X, y=alt.Y("m:Q", scale=e_ys, axis=None)),
    ]


L += e_points(e_utp, e_utp_sem, "circle", 18)
L += e_points(e_adp, e_adp_sem, "square", 24)
L.append(alt.Chart(pd.DataFrame({"x": [e_logc[-1]], "y": [e_adp[-1] + e_adp_sem[-1]], "s": ["***"]})).mark_text(
    font=FONT, fontSize=16, fontWeight="bold", baseline="alphabetic", dy=2).encode(
    x=alt.X("x:Q", scale=e_xs, axis=None), y=alt.Y("y:Q", scale=e_ys, axis=None), text="s:N"))
L.append(text("P < 0.001", 610, 476.7, size=9.5, style="italic", baseline="middle", color="#222"))
for y, shp, sz, lbl in [(354.5, "square", 20, "ADP"), (367, "circle", 16, "UTP")]:
    L.append(seg(447.7, y, 456, y, w=1))
    L.append(pt(451.8, y, shp, sz))
    L.append(text(lbl, 459, y, size=11, baseline="middle", color="#222"))

# ================= Panel F =================
f_df = pd.DataFrame({"c": f_cats, "m": f_mean, "lo": [a - b for a, b in zip(f_mean, f_sem)]})
f_xs = alt.Scale(domain=f_cats, range=[348.3 - M, 467.3 - M], paddingInner=0.335, paddingOuter=0.15)
f_ys = lin([-40, 0], 732.7, 574)
stripes = []
for i in range(30):
    col = "#9c9c9c" if i % 2 == 0 else "#f4f4f4"
    stripes.append(alt.GradientStop(color=col, offset=i / 30))
    stripes.append(alt.GradientStop(color=col, offset=(i + 1) / 30))
f_fills = ["white", "#222222", alt.LinearGradient(gradient="linear", stops=stripes, x1=0, x2=0, y1=0, y2=1)]
FX = alt.X("c:N", scale=f_xs, axis=None)
L.append(alt.Chart(f_df).mark_rule(color="black", strokeWidth=1.5).encode(
    x=alt.X("c:N", scale=f_xs, axis=axis(orient="top", offset=-(574 - M), labelAngle=-45, labelAlign="left",
                                          labelBaseline="middle", tickSize=3, title=None, domainColor="black",
                                          tickColor="black", labelFontSize=9, labelPadding=2, domainWidth=1.2)),
    y=alt.Y("m:Q", scale=f_ys, axis=axis(orient="left", offset=-(348.3 - M), values=[0, -10, -20, -30, -40],
                                         labelExpr=MINUS, labelFontWeight="bold", labelFontSize=9.5,
                                         labelColor="black", title=["Inhibition to", "ATP application (%)"],
                                         titleFontWeight="bold", titleFontSize=10.5, titleColor="black",
                                         domainColor="#666", domainWidth=2, tickColor="#666", titlePadding=5)),
    y2=alt.Y2("lo")))
L.append(alt.Chart(f_df).mark_tick(orient="horizontal", size=14, thickness=1.5, color="black").encode(
    x=FX, y=alt.Y("lo:Q", scale=f_ys, axis=None)))
for cat, fill in zip(f_cats, f_fills):
    L.append(alt.Chart(f_df).transform_filter(alt.datum.c == cat).mark_bar(
        fill=fill, stroke="black", strokeWidth=1.3).encode(
        x=FX, y=alt.Y("m:Q", scale=f_ys, axis=None), y2=alt.datum(0)))

# ================= Panel G =================
g_df = pd.DataFrame({"c": g_cats, "m": g_mean, "hi": [a + b for a, b in zip(g_mean, g_sem)], "s": g_star})
g_xs = alt.Scale(domain=g_cats, range=[546.7 - M, 673 - M], paddingInner=0.31, paddingOuter=0.086)
g_ys = lin([0, 40], 708.3, 574.3)
GX = alt.X("c:N", scale=g_xs, axis=None)
L.append(alt.Chart(g_df).mark_rule(color="black", strokeWidth=1.5).encode(
    x=alt.X("c:N", scale=g_xs, axis=axis(orient="bottom", offset=(708.3 - M) - H, labelAngle=0,
                                          labelExpr="split(datum.label, ' ')", tickSize=3, title=None,
                                          domainColor="black", tickColor="black", labelFontSize=9,
                                          labelLineHeight=10.5, labelPadding=3)),
    y=alt.Y("m:Q", scale=g_ys, axis=axis(orient="left", offset=-(546.7 - M), values=[0, 10, 20, 30, 40],
                                         title="\u0394Firing Rate (spikes/s)", titleFontSize=11,
                                         domainColor="#333")),
    y2=alt.Y2("hi")))
L.append(alt.Chart(g_df).mark_tick(orient="horizontal", size=10, thickness=1.5, color="black").encode(
    x=GX, y=alt.Y("hi:Q", scale=g_ys, axis=None)))
L.append(alt.Chart(g_df).mark_bar(fill="#6b6b6b", stroke="black", strokeWidth=1.2).encode(
    x=GX, y=alt.Y("m:Q", scale=g_ys, axis=None), y2=alt.datum(0)))
L.append(alt.Chart(g_df).mark_text(font=FONT, fontSize=16, fontWeight="bold", baseline="alphabetic", dy=1).encode(
    x=GX, y=alt.Y("hi:Q", scale=g_ys, axis=None), text="s:N"))

# ================= panel letters =================
for lbl, x, y in [("A", 8, 22), ("B", 372, 22), ("C", 8, 332), ("D", 8, 562), ("E", 366, 332),
                  ("F", 302, 560), ("G", 498, 557)]:
    L.append(text(lbl, x, y, size=17, weight="bold"))

chart = alt.layer(*L).resolve_scale(x="independent", y="independent").resolve_axis(
    x="independent", y="independent").properties(
    width=W, height=H, padding=0, autosize=alt.AutoSizeParams(type="none")
).configure_view(stroke=None).configure(font=FONT)

chart.save("out.html", embed_options={"renderer": "svg", "actions": False})
